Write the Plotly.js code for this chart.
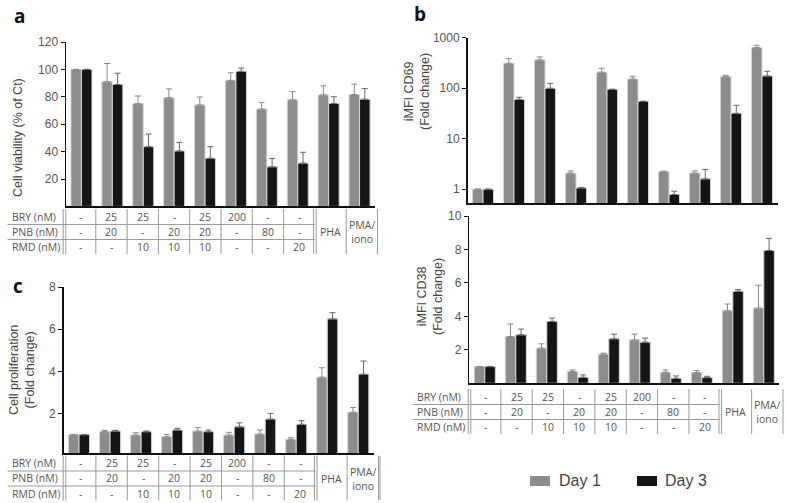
<!DOCTYPE html>
<html><head><meta charset="utf-8">
<script src="https://cdn.plot.ly/plotly-3.0.1.min.js"></script>
<style>html,body{margin:0;padding:0;background:#fff}#chart{width:787px;height:503px}</style>
</head><body><div id="chart"></div>
<script>
// ---------- data ----------
const categories = ['Ct','BRY25+PNB20','BRY25+RMD10','PNB20+RMD10','BRY25+PNB20+RMD10','BRY200','PNB80','RMD20','PHA','PMA/iono'];
const seriesNames = ['Day 1','Day 3'];

// a: cell viability (% of Ct)
const viabDay1    = [100, 91, 75, 79.3, 74, 92, 71.1, 77.8, 81.4, 81.7];
const viabDay1Err = [0, 13.3, 5.6, 6.5, 5.8, 5.6, 4.8, 6.1, 6.6, 7.5];
const viabDay3    = [100, 89, 43.6, 40.5, 35.2, 98.6, 28.9, 31.6, 75.2, 78.3];
const viabDay3Err = [0, 8.2, 9.2, 6.2, 8.4, 2.4, 6, 7.9, 4.8, 7.7];

// b (top): iMFI CD69 fold change (log)
const cd69Day1    = [1, 312, 363, 2.08, 207, 152, 2.24, 2.08, 169, 636];
const cd69Day1Err = [0, 73, 53, 0.22, 41, 20, 0.03, 0.22, 11, 72];
const cd69Day3    = [1, 60, 99.6, 1.06, 95, 55, 0.785, 1.6, 31.8, 175];
const cd69Day3Err = [0, 6, 25, 0.02, 0, 0, 0.125, 0.86, 14, 41];

// b (bottom): iMFI CD38 fold change
const cd38Day1    = [1, 2.8, 2.1, 0.7, 1.74, 2.6, 0.66, 0.64, 4.34, 4.5];
const cd38Day1Err = [0, 0.74, 0.26, 0.1, 0.06, 0.34, 0.14, 0.12, 0.4, 1.36];
const cd38Day3    = [1, 2.9, 3.7, 0.36, 2.66, 2.46, 0.3, 0.34, 5.5, 7.94];
const cd38Day3Err = [0, 0.34, 0.2, 0.14, 0.28, 0.24, 0.14, 0.08, 0.1, 0.72];

// c: cell proliferation fold change
const prolDay1    = [1, 1.14, 0.98, 0.9, 1.17, 0.98, 1.03, 0.78, 3.72, 2.06];
const prolDay1Err = [0, 0.06, 0.11, 0.11, 0.16, 0.13, 0.19, 0.07, 0.45, 0.23];
const prolDay3    = [1, 1.17, 1.14, 1.22, 1.14, 1.37, 1.74, 1.49, 6.49, 3.87];
const prolDay3Err = [0, 0.03, 0.03, 0.08, 0.08, 0.19, 0.27, 0.17, 0.29, 0.62];

// treatment table
const rowLabels = ['BRY (nM)','PNB (nM)','RMD (nM)'];
const bryRow = ['-','25','25','-','25','200','-','-'];
const pnbRow = ['-','20','-','20','20','-','80','-'];
const rmdRow = ['-','-','10','10','10','-','-','20'];
const extraCols = ['PHA','PMA/<br>iono'];

// ---------- layout helpers ----------
const W = 787, H = 503;
const px = v => v / W;
const py = v => 1 - v / H;
const C1 = '#8c8c8c', C3 = '#151515';
const TXT = '#555';
const zeros = n => new Array(n).fill(0);

function barTrace(y, err, name, color, errColor, xa, ya) {
  return {
    type: 'bar', x: categories, y: y, name: name, xaxis: xa, yaxis: ya,
    marker: {color: color, line: {color: '#d6d6d6', width: 1}},
    error_y: {type: 'data', symmetric: false, array: err, arrayminus: zeros(err.length),
              color: errColor, thickness: 1, width: 3},
    showlegend: false, hoverinfo: 'x+y'
  };
}

const data = [
  barTrace(viabDay1, viabDay1Err, seriesNames[0], C1, '#888', 'x', 'y'),
  barTrace(viabDay3, viabDay3Err, seriesNames[1], C3, '#666', 'x', 'y'),
  barTrace(cd69Day1, cd69Day1Err, seriesNames[0], C1, '#888', 'x2', 'y2'),
  barTrace(cd69Day3, cd69Day3Err, seriesNames[1], C3, '#666', 'x2', 'y2'),
  barTrace(cd38Day1, cd38Day1Err, seriesNames[0], C1, '#888', 'x3', 'y3'),
  barTrace(cd38Day3, cd38Day3Err, seriesNames[1], C3, '#666', 'x3', 'y3'),
  barTrace(prolDay1, prolDay1Err, seriesNames[0], C1, '#888', 'x4', 'y4'),
  barTrace(prolDay3, prolDay3Err, seriesNames[1], C3, '#666', 'x4', 'y4'),
];

const tickFont = {family: 'Liberation Sans, Arial, sans-serif', size: 12, color: TXT};
function xAxis(d0, d1, anchor) {
  return {domain: [px(d0), px(d1)], anchor: anchor, type: 'category', range: [-0.5, 9.5],
          showticklabels: false, ticks: '', showline: true, linecolor: '#111', linewidth: 2,
          showgrid: false, zeroline: false, fixedrange: true};
}
function yAxis(top, bot, anchor, extra) {
  return Object.assign({domain: [py(bot), py(top)], anchor: anchor, showline: true,
          linecolor: '#111', linewidth: 1.5, ticks: 'outside', ticklen: 4, tickcolor: '#111',
          tickwidth: 1, showgrid: false, zeroline: false, tickfont: tickFont, fixedrange: true}, extra);
}

const shapes = [];
const annotations = [];
const lineCol = '#9a9a9a';
function vline(x, y0, y1) {
  shapes.push({type: 'line', xref: 'paper', yref: 'paper', x0: px(x), x1: px(x), y0: py(y0), y1: py(y1),
               line: {color: lineCol, width: 1}});
}
function hline(x0, x1, y) {
  shapes.push({type: 'line', xref: 'paper', yref: 'paper', x0: px(x0), x1: px(x1), y0: py(y), y1: py(y),
               line: {color: lineCol, width: 1}});
}
function text(t, x, y, opts) {
  annotations.push(Object.assign({text: t, xref: 'paper', yref: 'paper', x: px(x), y: py(y),
    showarrow: false, xanchor: 'center', yanchor: 'middle',
    font: {family: 'Open Sans, sans-serif', size: 10.5, color: TXT}}, opts || {}));
}

function addTable(x0, top, colW) {
  const bot = top + 45;
  [x0 - 1.3, x0 + 1.3, x0 + 8 * colW - 1.3, x0 + 8 * colW + 1.3].forEach(x => vline(x, top, bot));
  [1, 2, 3, 4, 5, 6, 7, 9, 10].forEach(k => vline(x0 + k * colW, top, bot));
  hline(x0 - 57, x0 + 8 * colW, top + 15.5);
  hline(x0 - 57, x0 + 8 * colW, top + 30.5);
  const rows = [bryRow, pnbRow, rmdRow];
  rows.forEach((r, i) => {
    const yy = top + 7.7 + i * 15.2;
    text(rowLabels[i], x0 - 55, yy, {xanchor: 'left'});
    r.forEach((v, j) => text(v, x0 + (j + 0.5) * colW, yy));
  });
  text(extraCols[0], x0 + 8.5 * colW, top + 23);
  text(extraCols[1], x0 + 9.5 * colW, top + 23);
}

addTable(64.5, 209, 31.3);
addTable(64.5, 455.5, 31.4);
addTable(469.5, 389, 31.35);

// axis titles
const titleFont = {family: 'Liberation Sans, Arial, sans-serif', size: 12.5, color: '#444'};
text('Cell viability (% of Ct)', 18, 138, {textangle: -90, font: titleFont});
text('Cell proliferation<br>(Fold change)', 22, 370, {textangle: -90, font: titleFont});
text('iMFI CD69<br>(Fold change)', 417, 92, {textangle: -90, font: titleFont});
text('iMFI CD38<br>(Fold change)', 430, 297, {textangle: -90, font: titleFont});

// panel letters
const letterFont = {family: 'Open Sans, sans-serif', size: 19, color: '#111', weight: 'bold'};
text('<b>a</b>', 19, 15.5, {font: letterFont});
text('<b>b</b>', 420, 14.5, {font: letterFont});
text('<b>c</b>', 18, 285.5, {font: letterFont});

// legend
const legFont = {family: 'Liberation Sans, Arial, sans-serif', size: 16, color: '#444'};
shapes.push({type: 'rect', xref: 'paper', yref: 'paper', x0: px(530), x1: px(550), y0: py(486), y1: py(476),
             fillcolor: C1, line: {width: 0}});
shapes.push({type: 'rect', xref: 'paper', yref: 'paper', x0: px(637), x1: px(657), y0: py(486), y1: py(476),
             fillcolor: C3, line: {width: 0}});
text(seriesNames[0], 557, 480, {xanchor: 'left', font: legFont});
text(seriesNames[1], 663, 480, {xanchor: 'left', font: legFont});
vline(380, 456, 500);

const layout = {
  width: W, height: H, margin: {l: 0, r: 0, t: 0, b: 0},
  paper_bgcolor: '#fff', plot_bgcolor: 'rgba(0,0,0,0)',
  barmode: 'group', bargap: 0.32, bargroupgap: 0,
  showlegend: false,
  xaxis: xAxis(66, 375, 'y'),
  yaxis: yAxis(42, 206.4, 'x', {range: [0, 120], tickvals: [20, 40, 60, 80, 100, 120]}),
  xaxis2: xAxis(467.5, 777.5, 'y2'),
  yaxis2: yAxis(37.7, 203.3, 'x2', {type: 'log', range: [-0.28, 3], tickvals: [1, 10, 100, 1000],
                                   ticktext: ['1', '10', '100', '1000']}),
  xaxis3: xAxis(469.3, 779.3, 'y3'),
  yaxis3: yAxis(216, 383.3, 'x3', {range: [0, 10], tickvals: [2, 4, 6, 8, 10]}),
  xaxis4: xAxis(63.5, 373.8, 'y4'),
  yaxis4: yAxis(287, 453, 'x4', {range: [0.13, 8], tickvals: [2, 4, 6, 8]}),
  shapes: shapes, annotations: annotations
};

Plotly.newPlot('chart', data, layout, {displayModeBar: false, staticPlot: true});
</script>
</body></html>
